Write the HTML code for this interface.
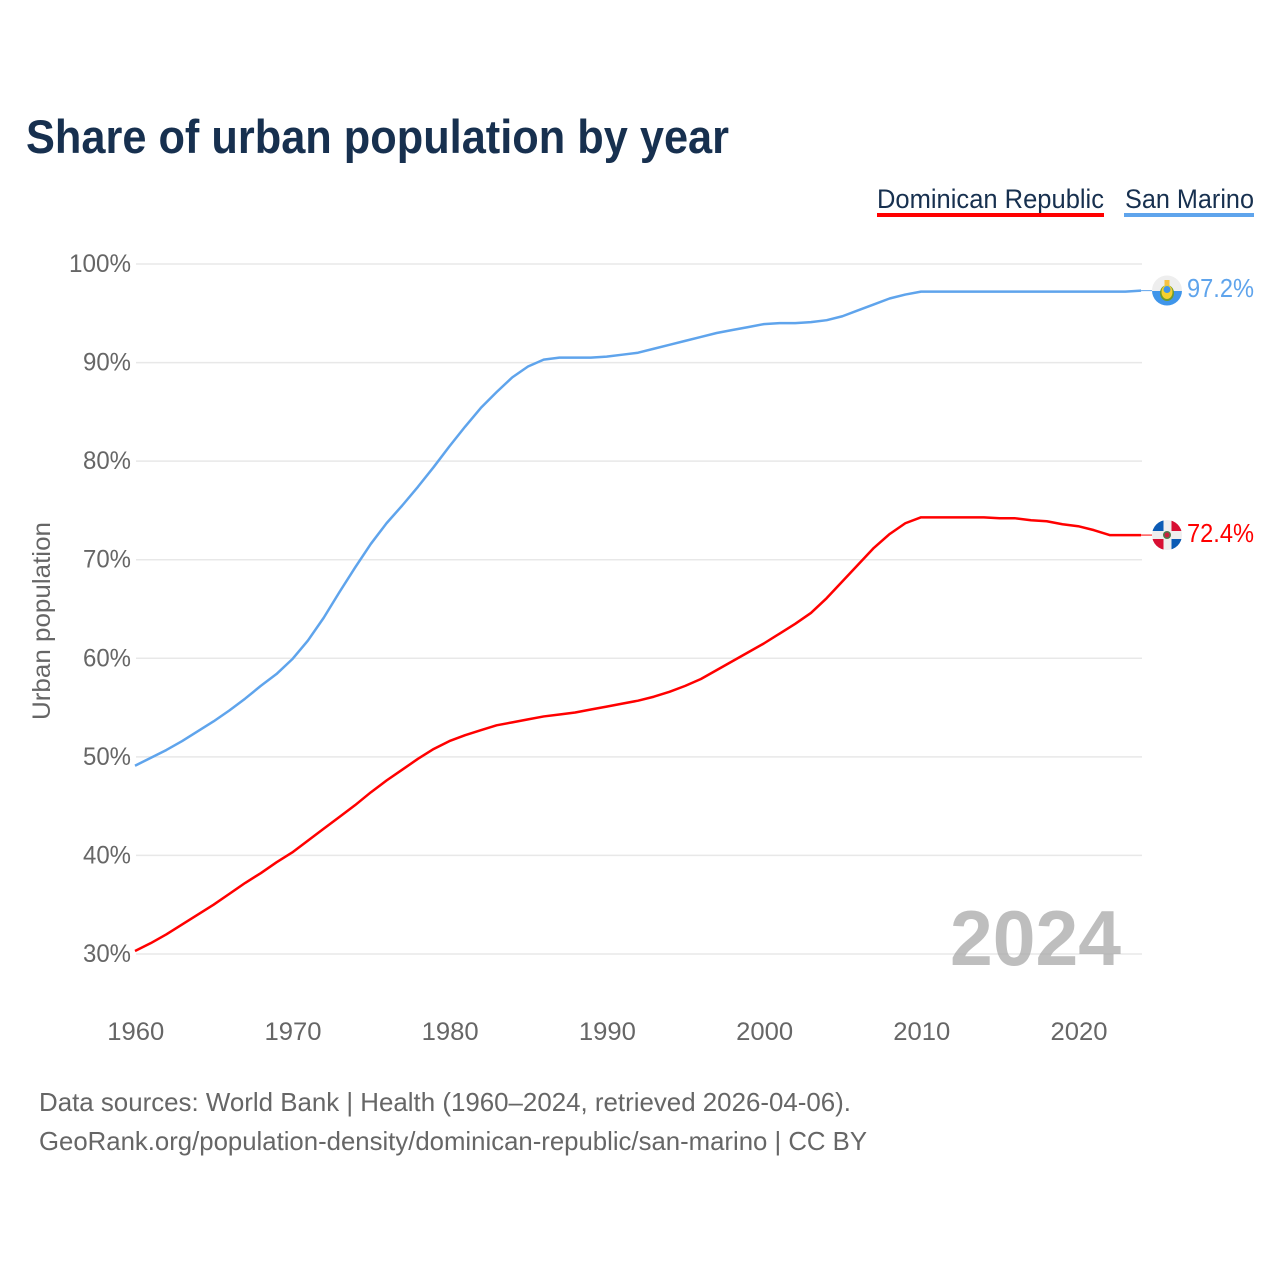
<!DOCTYPE html>
<html lang="en">
<head>
<meta charset="utf-8">
<title>Share of urban population by year</title>
<style>
html,body{margin:0;padding:0;background:#fff;}
svg{display:block;font-family:"Liberation Sans",sans-serif;}
</style>
</head>
<body>
<svg id="chart" width="1280" height="1280" viewBox="0 0 1280 1280" xmlns="http://www.w3.org/2000/svg">
  <rect width="1280" height="1280" fill="#fff"/>
  <text x="26" y="153" font-size="47" font-weight="700" fill="#17304f" textLength="703" lengthAdjust="spacingAndGlyphs">Share of urban population by year</text>

  <g id="grid"></g>
  <g id="yticks"></g>
  <g id="xticks"></g>
  <text transform="translate(50,621) rotate(-90)" text-anchor="middle" font-size="25" fill="#666" textLength="198" lengthAdjust="spacingAndGlyphs">Urban population</text>

  <text x="950" y="965" font-size="78" font-weight="700" fill="#a8a8a8" fill-opacity="0.75" textLength="171" lengthAdjust="spacingAndGlyphs">2024</text>

  <g id="series"></g>

  <g>
    <text x="877" y="208" font-size="27" fill="#17304f" textLength="227" lengthAdjust="spacingAndGlyphs">Dominican Republic</text>
    <rect x="877" y="213" width="227" height="4" fill="#ff0000"/>
  </g>
  <g>
    <text x="1125" y="208" font-size="27" fill="#17304f" textLength="129" lengthAdjust="spacingAndGlyphs">San Marino</text>
    <rect x="1124" y="213" width="130" height="4" fill="#5fa4ec"/>
  </g>

  <g>
    <clipPath id="clip-sm"><circle cx="1167" cy="290.500" r="15"/></clipPath>
    <g clip-path="url(#clip-sm)">
      <rect x="1152" y="275" width="30" height="16" fill="#eeeeee"/>
      <rect x="1152" y="291" width="30" height="16" fill="#3f95ea"/>
      <ellipse cx="1167" cy="293" rx="7" ry="8" fill="#6f9a2c"/>
      <ellipse cx="1167" cy="292" rx="5.500" ry="7" fill="#f5d02f"/>
      <circle cx="1167" cy="289.500" r="3.500" fill="#3f95ea"/>
      <rect x="1164.500" y="280" width="5" height="5" fill="#f7c244"/>
    </g>
  </g>
  <g>
    <clipPath id="clip-do"><circle cx="1167" cy="535" r="15"/></clipPath>
    <g clip-path="url(#clip-do)">
      <rect x="1152" y="520" width="30" height="30" fill="#eeeeee"/>
      <rect x="1152" y="520" width="11.500" height="11" fill="#0b5bb5"/>
      <rect x="1171.500" y="520" width="10.500" height="11" fill="#d80f33"/>
      <rect x="1152" y="539" width="11.500" height="11" fill="#d80f33"/>
      <rect x="1171.500" y="539" width="10.500" height="11" fill="#0b5bb5"/>
      <circle cx="1167" cy="535" r="4" fill="#4c7a4a"/>
      <circle cx="1167" cy="535" r="2.500" fill="#c8203f"/>
    </g>
  </g>
  <text x="1187" y="297" font-size="26" fill="#5fa4ec" textLength="67" lengthAdjust="spacingAndGlyphs">97.2%</text>
  <text x="1187" y="542" font-size="26" fill="#ff0000" textLength="67" lengthAdjust="spacingAndGlyphs">72.4%</text>

  <text x="39" y="1111" font-size="26" fill="#666" textLength="812" lengthAdjust="spacingAndGlyphs">Data sources: World Bank | Health (1960–2024, retrieved 2026-04-06).</text>
  <text x="39" y="1150" font-size="26" fill="#666" textLength="828" lengthAdjust="spacingAndGlyphs">GeoRank.org/population-density/dominican-republic/san-marino | CC BY</text>
</svg>
<script>
const years = [1960,1961,1962,1963,1964,1965,1966,1967,1968,1969,1970,1971,1972,1973,1974,1975,1976,1977,1978,1979,1980,1981,1982,1983,1984,1985,1986,1987,1988,1989,1990,1991,1992,1993,1994,1995,1996,1997,1998,1999,2000,2001,2002,2003,2004,2005,2006,2007,2008,2009,2010,2011,2012,2013,2014,2015,2016,2017,2018,2019,2020,2021,2022,2023,2024];
const sanMarino = [49.1,49.9,50.7,51.6,52.6,53.6,54.7,55.9,57.2,58.4,59.9,61.8,64.1,66.7,69.2,71.6,73.7,75.5,77.4,79.4,81.5,83.5,85.4,87.0,88.5,89.6,90.3,90.5,90.5,90.5,90.6,90.8,91.0,91.4,91.8,92.2,92.6,93.0,93.3,93.6,93.9,94.0,94.0,94.1,94.3,94.7,95.3,95.9,96.5,96.9,97.2,97.2,97.2,97.2,97.2,97.2,97.2,97.2,97.2,97.2,97.2,97.2,97.2,97.2,97.3];
const dominicanRepublic = [30.3,31.1,32.0,33.0,34.0,35.0,36.1,37.2,38.2,39.3,40.3,41.5,42.7,43.9,45.1,46.4,47.6,48.7,49.8,50.8,51.6,52.2,52.7,53.2,53.5,53.8,54.1,54.3,54.5,54.8,55.1,55.4,55.7,56.1,56.6,57.2,57.9,58.8,59.7,60.6,61.5,62.5,63.5,64.6,66.1,67.8,69.5,71.2,72.6,73.7,74.3,74.3,74.3,74.3,74.3,74.2,74.2,74.0,73.9,73.6,73.4,73.0,72.5,72.5,72.5];
const yTickValues = [30,40,50,60,70,80,90,100];
const yTickLabels = ["30%","40%","50%","60%","70%","80%","90%","100%"];
const xTickValues = [1960,1970,1980,1990,2000,2010,2020];
const xTickLabels = ["1960","1970","1980","1990","2000","2010","2020"];

const SVG_NS = "http://www.w3.org/2000/svg";
function xScale(year){ return 135 + (year - 1960) * 15.72; }
function yScale(pct){ return 954 - (pct - 30) * (954 - 264) / 70; }
function make(tag, attrs, parent){
  const el = document.createElementNS(SVG_NS, tag);
  for (const k in attrs) el.setAttribute(k, attrs[k]);
  parent.appendChild(el);
  return el;
}

const gridGroup = document.getElementById("grid");
const yGroup = document.getElementById("yticks");
const xGroup = document.getElementById("xticks");
const seriesGroup = document.getElementById("series");

yTickValues.forEach(function(v, i){
  const line = make("line", {x1:136, x2:1142, y1:yScale(v), y2:yScale(v), stroke:"#e8e8e8", "stroke-width":1.5}, gridGroup);
  
  
  const label = make("text", {x:131, y:yScale(v) + 8, "text-anchor":"end", "font-size":25, fill:"#666"}, yGroup);
  
  
  label.textContent = yTickLabels[i];
  label.setAttribute("textLength", yTickLabels[i].length === 4 ? 62 : 48);
  label.setAttribute("lengthAdjust", "spacingAndGlyphs");
});

xTickValues.forEach(function(v, i){
  const label = make("text", {x:xScale(v) + 0.8, y:1040, "text-anchor":"middle", "font-size":25, fill:"#666"}, xGroup);
  
  
  label.textContent = xTickLabels[i];
  label.setAttribute("textLength", 57);
  label.setAttribute("lengthAdjust", "spacingAndGlyphs");
});

function pathFor(values){
  return values.map(function(v, i){
    return (i ? "L" : "M") + xScale(years[i]).toFixed(2) + " " + yScale(v).toFixed(2);
  }).join(" ");
}

const blueLine = make("path", {d:pathFor(sanMarino), fill:"none", stroke:"#5fa4ec", "stroke-width":2.5, "stroke-linejoin":"round"}, seriesGroup);



const redLine = make("path", {d:pathFor(dominicanRepublic), fill:"none", stroke:"#ff0000", "stroke-width":2.5, "stroke-linejoin":"round"}, seriesGroup);



const blueConnector = make("line", {x1:xScale(2024), x2:1152, y1:yScale(sanMarino[sanMarino.length - 1]), y2:yScale(sanMarino[sanMarino.length - 1]), stroke:"#5fa4ec", "stroke-width":1}, seriesGroup);



const redConnector = make("line", {x1:xScale(2024), x2:1152, y1:yScale(dominicanRepublic[dominicanRepublic.length - 1]), y2:yScale(dominicanRepublic[dominicanRepublic.length - 1]), stroke:"#ff0000", "stroke-width":1}, seriesGroup);


</script>
</body>
</html>
